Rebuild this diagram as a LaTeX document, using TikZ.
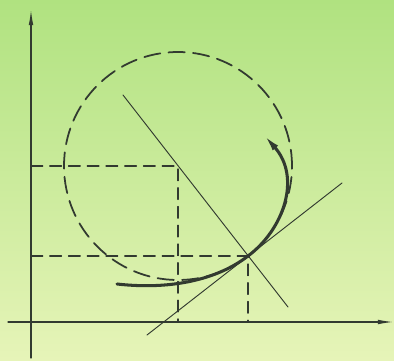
\documentclass[tikz,border=0pt]{standalone}
\usepackage{tikz}
\usetikzlibrary{arrows, arrows.meta}

\definecolor{pagetop}{RGB}{176,226,128}
\definecolor{pagebot}{RGB}{230,244,184}
\definecolor{ink}{RGB}{50,58,48}

\begin{document}
\begin{tikzpicture}[line cap=round,line join=round,>={Latex[length=13pt,width=4pt]},x=0.03cm,y=0.03cm]
			% page
			\shade[top color=pagetop, bottom color=pagebot] (0,0) rectangle (394,360);
			\useasboundingbox (0,0) rectangle (394,360);
			\coordinate (O) at (31,38);
			\coordinate (C) at (178,194);
			\coordinate (P) at (248,104);
			% axes
			\draw[ink, line width=0.9pt, ->] (31,2) -- (31,350);
			\draw[ink, line width=0.9pt, ->] (8,38) -- (393,38);
			% guides
			\draw[ink, line width=1pt, dash pattern=on 10pt off 6pt] (31,194) -- (C) -- (178,38);
			\draw[ink, line width=1pt, dash pattern=on 10pt off 6pt] (31,104) -- (P) -- (248,38);
			\draw[ink, line width=1.5pt, dash pattern=on 14pt off 7pt] (C) circle (114);
			% normal and tangent
			\draw[ink, line width=0.8pt] (123,265) -- (288,53);
			\draw[ink, line width=0.8pt] (147,25) -- (342,177);
			% path
			\draw[ink, line width=2.6pt, -{Latex[length=16pt,width=6pt]}] (117,76) .. controls (170,70) and (217,80) .. (P)
				.. controls (283,130) and (302,182) .. (263,226);
			\filldraw[ink] (P) circle(1.6);
\end{tikzpicture}
\end{document}
